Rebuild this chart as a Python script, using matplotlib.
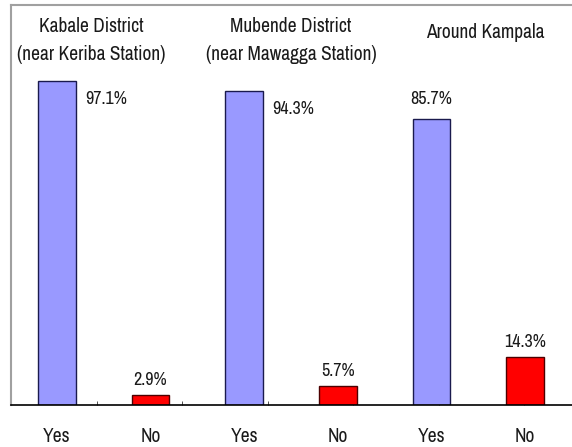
import matplotlib
matplotlib.use("Agg")
import matplotlib.pyplot as plt
from matplotlib import font_manager

names = {f.name for f in font_manager.fontManager.ttflist}
fam = [n for n in ['Archivo Narrow', 'Liberation Sans Narrow', 'Roboto Condensed', 'Liberation Sans']
       if n in names] + ['DejaVu Sans']
plt.rcParams['font.family'] = fam
plt.rcParams['text.color'] = '#1a1a1a'
plt.rcParams['xtick.color'] = '#1a1a1a'

groups = ["Kabale District\n(near Keriba Station)",
          "Mubende District\n(near Mawagga Station)",
          "Around Kampala"]
categories = ["Yes", "No", "Yes", "No", "Yes", "No"]
values = [97.1, 2.9, 94.3, 5.7, 85.7, 14.3]
colors = ["#9999FF", "#FF0000"] * 3
edges = ["#1a1a4d", "#4d0000"] * 3

fig = plt.figure(figsize=(5.72, 4.47), dpi=100)
ax = fig.add_axes([11/572, 42/447, 561/572, 400/447])
x = list(range(len(values)))
ax.bar(x, values, width=0.4, color=colors, edgecolor=edges, linewidth=1.0, zorder=2)
ax.set_xlim(-0.49, 5.5)
ax.set_ylim(0, 120)

ax.set_yticks([])
ax.set_xticks(x)
ax.set_xticklabels(categories, fontsize=14)
ax.tick_params(axis='x', which='major', length=0, pad=16)
# small upward ticks on the baseline
minor = [-0.49 + k * 0.9135 for k in range(1, 7)]
ax.set_xticks(minor, minor=True)
ax.tick_params(axis='x', which='minor', direction='in', length=3, color='#333333')

for s in ['top', 'left']:
    ax.spines[s].set_color('#a0a0a0')
    ax.spines[s].set_linewidth(1.5)
ax.spines['right'].set_visible(False)
ax.spines['bottom'].set_color('black')
ax.spines['bottom'].set_linewidth(1.2)

# value labels
for i, v in enumerate(values):
    label = f"{v:.1f}%"
    if i in (0, 2):
        ax.annotate(label, (i + 0.2, v), xytext=(7, -13), textcoords='offset points',
                    ha='left', va='center', fontsize=13)
    else:
        off = 20 if i == 4 else 15
        ax.annotate(label, (i, v), xytext=(0, off * 0.72), textcoords='offset points',
                    ha='center', va='center', fontsize=13)

# group titles
title_offsets = [-0.13, 0.0, 0.07]
title_y = [0.91, 0.91, 0.93]
for g, name in enumerate(groups):
    cx = 2 * g + 0.5 + title_offsets[g]
    ax.text(cx, title_y[g], name, transform=ax.get_xaxis_transform(),
            ha='center', va='center', fontsize=14, linespacing=1.6)

fig.savefig("out.png", dpi=100)
